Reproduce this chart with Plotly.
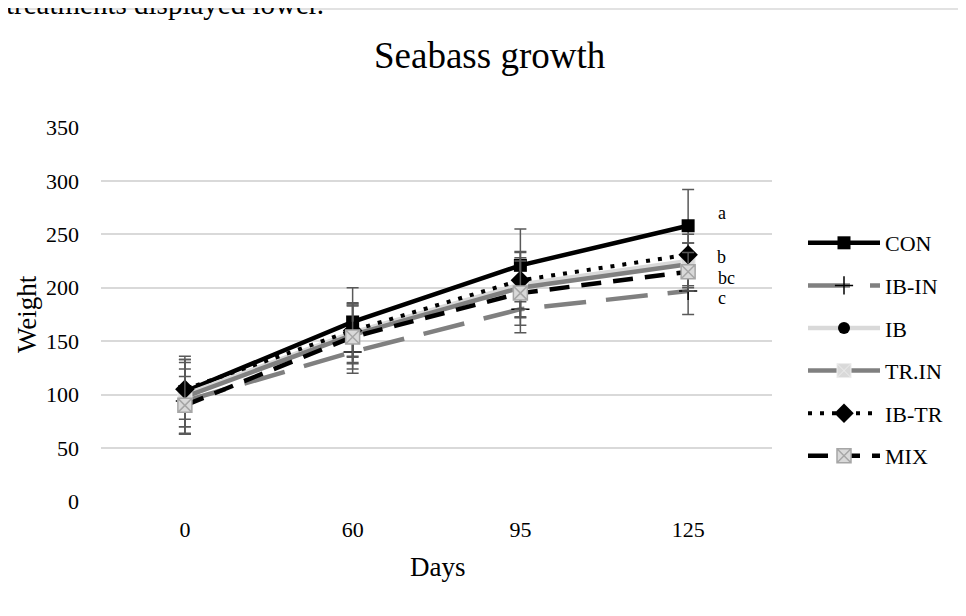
import plotly.graph_objects as go

days = ["0", "60", "95", "125"]
series_names = ["CON", "IB-IN", "IB", "TR.IN", "IB-TR", "MIX"]
con = [103, 168, 221, 258]
ib_in = [94, 140, 180, 197]
ib = [100, 158, 203, 225]
tr_in = [98, 156, 200, 222]
ib_tr = [105, 160, 207, 231]
mix = [90, 154, 195, 215]
err_con = [33, 32, 34, 34]
err_ib_in = [30, 20, 22, 22]
err_ib = [30, 28, 30, 25]
err_tr_in = [35, 27, 28, 20]
err_ib_tr = [28, 25, 27, 11]
err_mix = [27, 30, 30, 18]
sig_letters = ["a", "b", "bc", "c"]
sig_y = [270, 229, 209, 190]

FONT = "Liberation Serif"
OFF = 8  # page body margin
W, H = 966 - OFF, 616 - OFF
# plot area in screen pixels
SL, SR, ST, SB = 101, 772, 127, 502
L, R, T, B = SL - OFF, SR - OFF, ST - OFF, SB - OFF

def px(sx):
    return (sx - OFF - L) / (R - L)

def py(sy):
    return (B - (sy - OFF)) / (B - T)

xi = list(range(len(days)))

styles = [
    dict(y=con, e=err_con, line=dict(color="black", width=4.5),
         marker=dict(symbol="square", size=13, color="black")),
    dict(y=ib_in, e=err_ib_in, line=dict(color="#808080", width=4.5, dash="42px,20px"),
         marker=dict(symbol="cross-thin-open", size=13, color="black", line=dict(width=1.5, color="black"))),
    dict(y=ib, e=err_ib, line=dict(color="#D9D9D9", width=4.5),
         marker=dict(symbol="circle", size=12, color="black")),
    dict(y=tr_in, e=err_tr_in, line=dict(color="#808080", width=4.5),
         marker=dict(symbol="square-x", size=14, color="#D9D9D9", line=dict(width=1, color="#EDEDED"))),
    dict(y=ib_tr, e=err_ib_tr, line=dict(color="black", width=4, dash="4px,8px"),
         marker=dict(symbol="diamond", size=15, color="black")),
    dict(y=mix, e=err_mix, line=dict(color="black", width=4.5, dash="20px,12px"),
         marker=dict(symbol="square-x", size=14, color="#D9D9D9", line=dict(width=1.5, color="#A6A6A6"))),
]

fig = go.Figure()
for name, st in zip(series_names, styles):
    fig.add_trace(go.Scatter(
        x=xi, y=st["y"], name=name, mode="lines+markers",
        line=st["line"], marker=st["marker"], legendgroup=name,
        error_y=dict(type="data", array=st["e"], visible=True,
                     color="#595959", thickness=1.5, width=6),
    ))

annotations = []
for letter, yv in zip(sig_letters, sig_y):
    annotations.append(dict(x=3.2 if letter != "bc" else 3.23, y=yv, xref="x", yref="y",
                            text=letter, showarrow=False, xanchor="center", yanchor="middle",
                            font=dict(family=FONT, size=18, color="black")))
annotations += [
    dict(x=px(27), y=py(314), xref="paper", yref="paper", text="Weight", textangle=-90,
         xanchor="center", yanchor="middle",
         showarrow=False, font=dict(family=FONT, size=27, color="black")),
    dict(x=px(438), y=py(567), xref="paper", yref="paper", text="Days",
         xanchor="center", yanchor="middle",
         showarrow=False, font=dict(family=FONT, size=27, color="black")),
    dict(x=px(490), y=py(55), xref="paper", yref="paper", text="Seabass growth",
         xanchor="center", yanchor="middle",
         showarrow=False, font=dict(family=FONT, size=37, color="black")),
    dict(x=px(4), y=py(4), xref="paper", yref="paper", text="treatments displayed lower.",
         xanchor="left", yanchor="middle",
         showarrow=False, font=dict(family=FONT, size=29, color="black")),
]

shapes = [dict(type="rect", xref="paper", yref="paper", x0=px(7), y0=py(640),
               x1=px(990), y1=py(9), line=dict(color="#D9D9D9", width=1.5), layer="below")]

fig.update_layout(
    width=W, height=H,
    margin=dict(l=L, r=W - R, t=T, b=H - B),
    paper_bgcolor="white", plot_bgcolor="white",
    showlegend=True,
    legend=dict(x=px(803), y=py(222), xanchor="left", yanchor="top",
                font=dict(family=FONT, size=22, color="black"),
                tracegroupgap=11, bgcolor="rgba(0,0,0,0)", itemwidth=72),
    xaxis=dict(range=[-0.5, 3.5], tickvals=xi, ticktext=days, showgrid=False,
               zeroline=False, showline=False, ticks="",
               tickfont=dict(family=FONT, size=22, color="black"), ticklabelstandoff=12),
    yaxis=dict(range=[-0.4, 350.4], tickvals=[0, 50, 100, 150, 200, 250, 300, 350],
               showgrid=True, gridcolor="#D9D9D9", gridwidth=1.5,
               zeroline=False, showline=False, ticks="",
               tickfont=dict(family=FONT, size=22, color="black"), ticklabelstandoff=21),
    annotations=annotations,
    shapes=shapes,
)

fig.write_html("out.html")
